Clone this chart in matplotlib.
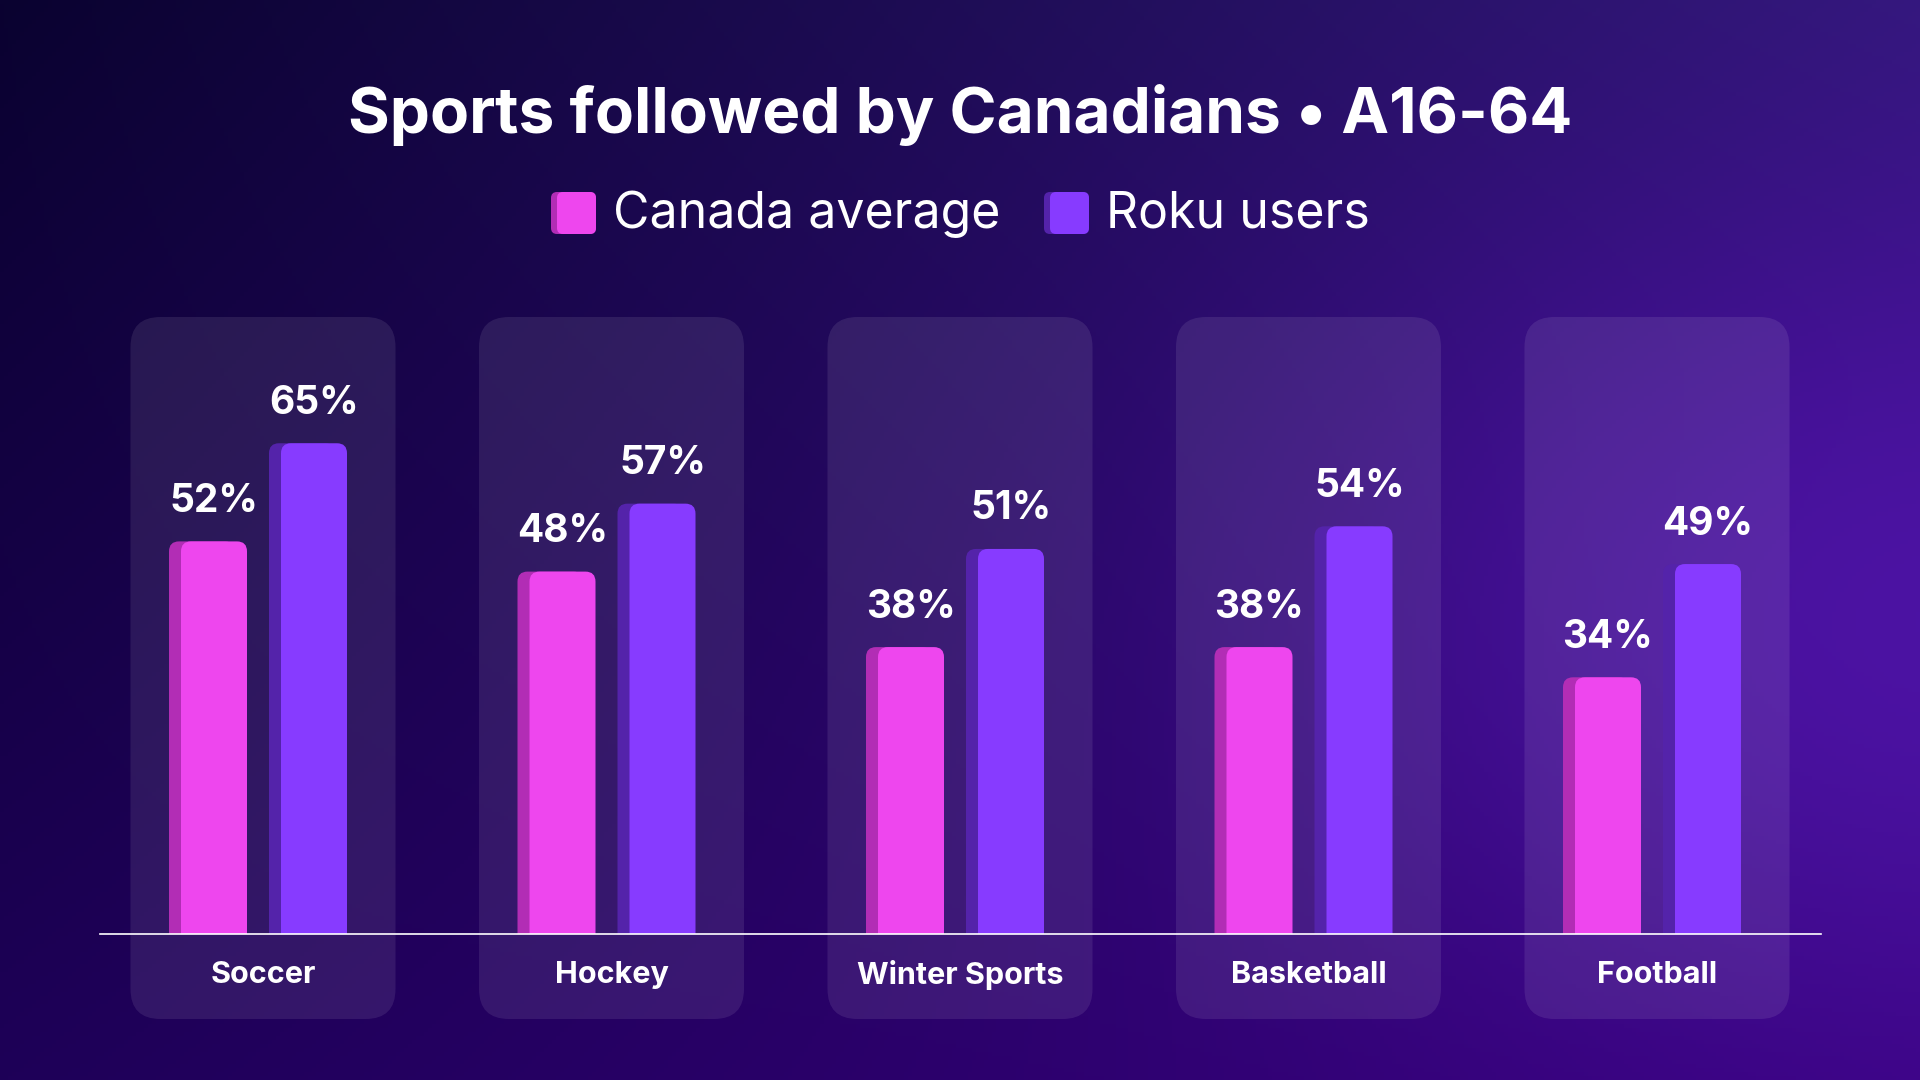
import numpy as np
import matplotlib
matplotlib.use("Agg")
import matplotlib.pyplot as plt
from matplotlib.patches import FancyBboxPatch, Rectangle

plt.rcParams["font.family"] = ["Inter", "DejaVu Sans"]

# data
sports = ["Soccer", "Hockey", "Winter Sports", "Basketball", "Football"]
canada_avg = [52, 48, 38, 38, 34]
roku_users = [65, 57, 51, 54, 49]
series_names = ["Canada average", "Roku users"]

PINK, PINK_DARK = "#EE46EE", "#B22DB5"
PURPLE, PURPLE_DARK = "#873BFF", "#5423AA"

W, H = 1920, 1080
fig = plt.figure(figsize=(19.2, 10.8), dpi=100)

# background gradient (pixel axes)
bg = fig.add_axes([0, 0, 1, 1])
bg.set_xlim(0, W)
bg.set_ylim(H, 0)
bg.axis("off")

def hex2rgb(h):
    h = h.lstrip("#")
    return np.array([int(h[i:i + 2], 16) / 255 for i in (0, 2, 4)])

yy, xx = np.mgrid[0:H:4, 0:W:4]
u = xx / W
v = yy / H
tl, tr = hex2rgb("#0a0230"), hex2rgb("#32187a")
bl, br = hex2rgb("#1e0058"), hex2rgb("#38007e")
img = (tl * ((1 - u) * (1 - v))[..., None] + tr * (u * (1 - v))[..., None]
       + bl * ((1 - u) * v)[..., None] + br * (u * v)[..., None])
glow = np.exp(-(((xx - 1950) / 650) ** 2 + ((yy - 620) / 420) ** 2))
img = img + (hex2rgb("#5014aa") - img) * glow[..., None] * 0.85
bg.imshow(np.clip(img, 0, 1), extent=[0, W, H, 0], aspect="auto", zorder=0)

# title + legend
fig.text(0.5, 1 - 115 / H, "Sports followed by Canadians \u2022 A16-64", color="white",
         fontsize=46, fontweight="bold", ha="center", va="center")

leg_y = 213
for name, col, dark, x0 in [(series_names[0], PINK, PINK_DARK, 551),
                            (series_names[1], PURPLE, PURPLE_DARK, 1044)]:
    bg.add_patch(FancyBboxPatch((x0, leg_y - 21), 45, 42, boxstyle="round,pad=0,rounding_size=6",
                                fc=dark, ec="none", zorder=2))
    bg.add_patch(FancyBboxPatch((x0 + 6, leg_y - 21), 39, 42, boxstyle="round,pad=0,rounding_size=6",
                                fc=col, ec="none", zorder=3))
    bg.text(x0 + 62, leg_y + 1, name, color="white", fontsize=36, ha="left", va="center", zorder=3)

# main axes: x in category units, y in percent
ax = fig.add_axes([0, 0, 1, 1])
ax.patch.set_alpha(0)
ax.axis("off")
px_x = 348.5      # pixels per category
px_y = 7.55       # pixels per percent
x_center0 = 263
base_px = 934
ax.set_xlim(-x_center0 / px_x, (W - x_center0) / px_x)
ax.set_ylim(-(H - base_px) / px_y, base_px / px_y)
asp = px_x / px_y

clip = Rectangle((-1, 0), 7, 200, transform=ax.transData)

def bar(x, val, col, dark):
    w = 66 / px_x
    off = 12 / px_x
    r = 10 / px_x
    ext = 3  # push rounded bottom below the baseline, then clip it away
    for xx0, c, z in [(x - w / 2 - off, dark, 3), (x - w / 2, col, 4)]:
        p = FancyBboxPatch((xx0, -ext), w, val + ext, boxstyle=f"round,pad=0,rounding_size={r}",
                           mutation_aspect=asp, fc=c, ec="none", zorder=z)
        ax.add_patch(p)
        p.set_clip_path(clip)

for i, sport in enumerate(sports):
    # panel
    pw = 265 / px_x
    top = (base_px - 317) / px_y
    bot = (base_px - 1019) / px_y
    ax.add_patch(FancyBboxPatch((i - pw / 2, bot), pw, top - bot,
                                boxstyle=f"round,pad=0,rounding_size={30 / px_x}",
                                mutation_aspect=asp, fc="white", alpha=0.09, ec="none", zorder=1))
    xp = i - 49 / px_x
    xr = i + 51 / px_x
    bar(xp, canada_avg[i], PINK, PINK_DARK)
    bar(xr, roku_users[i], PURPLE, PURPLE_DARK)
    for xc, val in [(xp, canada_avg[i]), (xr, roku_users[i])]:
        ax.text(xc, val + 5.3, f"{val}%", color="white", fontsize=28, fontweight="bold",
                ha="center", va="center", zorder=5)
    ax.text(i, -(975 - base_px) / px_y, sport, color="white", fontsize=22, fontweight="bold",
            ha="center", va="center", zorder=5)

# baseline
ax.plot([(100 - x_center0) / px_x, (1821 - x_center0) / px_x], [0, 0], color="white",
        lw=1.2, zorder=6)

fig.savefig("out.png", dpi=100)
